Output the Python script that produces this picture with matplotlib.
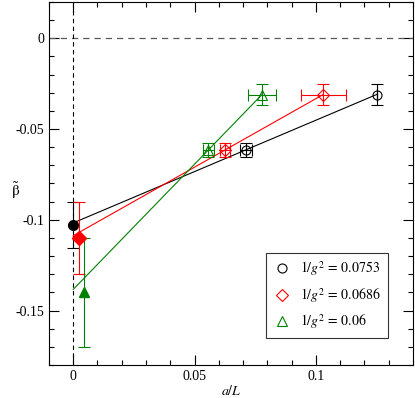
import numpy as np
import matplotlib.pyplot as plt
from matplotlib.ticker import MultipleLocator
from matplotlib.lines import Line2D

plt.rcParams['font.family'] = ['Liberation Serif', 'DejaVu Serif']
plt.rcParams['mathtext.fontset'] = 'stix'

# finite-L data for each coupling: a/L, beta, errors
labels = ['0.0753', '0.0686', '0.06']
colors = ['black', 'red', 'green']
markers = ['o', 'D', '^']

x_data = [[0.0711, 0.125], [0.0626, 0.1030], [0.0557, 0.0778]]
x_err = [[0.0024, 0.0], [0.0022, 0.0093], [0.0022, 0.0057]]
y_data = [[-0.0615, -0.031], [-0.0615, -0.031], [-0.0615, -0.031]]
y_err = [[0.004, 0.006], [0.004, 0.006], [0.004, 0.006]]

# continuum extrapolations (slightly shifted in a/L for visibility)
x_cont = [0.0, 0.0022, 0.0043]
y_cont = [-0.103, -0.110, -0.140]
y_cont_err = [0.0127, 0.020, 0.030]


def main():
    fig = plt.figure(figsize=(4.15, 3.98), dpi=100)
    ax = fig.add_axes([0.118, 0.083, 0.877, 0.912])

    ax.axhline(0, color='0.35', lw=0.9, dashes=(5, 4))
    ax.axvline(0, color='black', lw=0.8, dashes=(4, 3))

    handles = []
    for i in range(3):
        xs = np.array(x_data[i])
        ys = np.array(y_data[i])
        c = colors[i]
        ms = 6.5 if markers[i] != 'D' else 6
        ax.errorbar(xs, ys, xerr=x_err[i], yerr=y_err[i], fmt=markers[i], mfc='none',
                    mec=c, ecolor=c, ms=ms, capsize=4, elinewidth=0.8, capthick=0.8,
                    mew=0.8)
        # linear fit extrapolated to a/L = 0
        p = np.polyfit(xs, ys, 1)
        xr = np.linspace(0, xs.max(), 100)
        ax.plot(xr, np.polyval(p, xr), color=c, lw=0.8)
        ax.errorbar(x_cont[i], y_cont[i], yerr=y_cont_err[i], fmt=markers[i], color=c,
                    ms=7, capsize=4, elinewidth=0.8, capthick=0.8)
        handles.append(Line2D([], [], ls='none', marker=markers[i], mfc='none', mec=c,
                              ms=ms, mew=0.8, label=r'$1/g^2\,=\,%s$' % labels[i]))

    ax.set_xlim(-0.01, 0.14)
    ax.set_ylim(-0.18, 0.02)
    ax.xaxis.set_minor_locator(MultipleLocator(0.01))
    ax.yaxis.set_minor_locator(MultipleLocator(0.01))
    ax.set_xticks([0, 0.05, 0.1])
    ax.set_xticklabels(['0', '0.05', '0.1'])
    ax.set_yticks([0, -0.05, -0.1, -0.15])
    ax.set_yticklabels(['0', '-0.05', '-0.1', '-0.15'])
    ax.tick_params(which='both', direction='in', top=True, right=True, labelsize=10)
    ax.tick_params(which='major', length=7, width=0.8)
    ax.tick_params(which='minor', length=3.5, width=0.8)
    for s in ax.spines.values():
        s.set_linewidth(0.8)

    ax.set_xlabel(r'$a/L$', fontsize=10, labelpad=1)
    ax.set_ylabel(r'$\tilde{\mathrm{\beta}}$', fontsize=11, rotation=0,
                  ha='center', va='center')
    ax.yaxis.set_label_coords(-0.093, 0.48)

    leg = ax.legend(handles=handles, loc='lower right', fontsize=10, frameon=True,
                    fancybox=False, edgecolor='black', borderpad=0.5, handletextpad=0.6,
                    handlelength=1.4, labelspacing=0.55, borderaxespad=0,
                    bbox_to_anchor=(0.931, 0.074))
    leg.get_frame().set_linewidth(0.8)

    fig.savefig('out.png', dpi=100)


if __name__ == "__main__":
    main()
